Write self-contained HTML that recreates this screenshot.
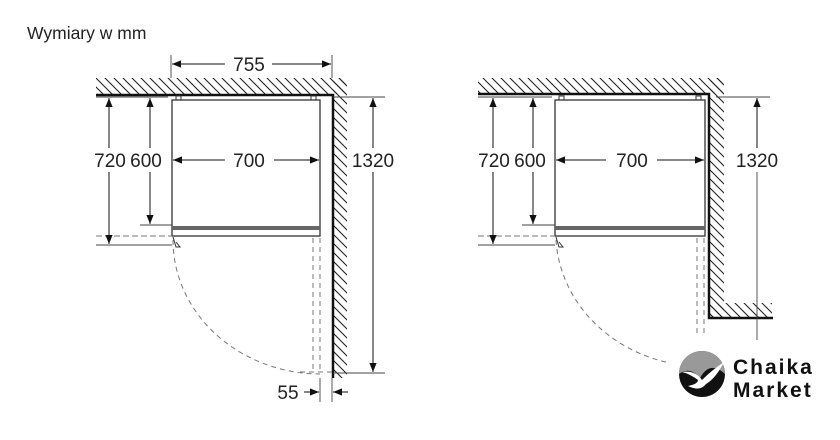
<!DOCTYPE html>
<html><head><meta charset="utf-8"><style>
html,body{margin:0;padding:0;background:#fff;}
svg{display:block;font-family:"Liberation Sans",sans-serif;}
</style></head><body>
<svg width="840" height="440" viewBox="0 0 840 440" xmlns="http://www.w3.org/2000/svg">
<defs>
<pattern id="h" width="9" height="9" patternUnits="userSpaceOnUse">
<path d="M-2,-2 L11,11 M-2,7 L2,11 M7,-2 L11,2" stroke="#222" stroke-width="1.1"/>
</pattern>
<marker id="a" viewBox="0 0 10 10" refX="10" refY="5" markerWidth="9" markerHeight="9" markerUnits="userSpaceOnUse" orient="auto-start-reverse">
<path d="M0,1 L10,5 L0,9 z" fill="#111"/>
</marker>
</defs>
<text x="27" y="39" font-size="17.5" fill="#222">Wymiary w mm</text>

<!-- LEFT -->
<rect x="96" y="78" width="250" height="16" fill="url(#h)"/>
<rect x="333" y="78" width="14" height="300" fill="url(#h)"/>
<path d="M96,95 H333 V378" fill="none" stroke="#111" stroke-width="2.5"/>
<rect x="172" y="100" width="148" height="136" fill="none" stroke="#333" stroke-width="1.3"/>
<rect x="172" y="226" width="148" height="4" fill="#666"/>
<rect x="176" y="96" width="5" height="4" fill="none" stroke="#333"/>
<rect x="311" y="96" width="5" height="4" fill="none" stroke="#333"/>
<path d="M173,237 l3,10 h4 l-4,-5" fill="none" stroke="#333"/>
<g stroke="#777" fill="none" stroke-dasharray="5,4">
<path d="M173,240 A148,134 0 0 0 320,374"/>
<path d="M313,238 V372 M320,238 V372 M300,372 H333"/>
<path d="M96,236 H172" stroke-dasharray="6,3"/>
</g>
<g stroke="#444" stroke-width="0.9">
<path d="M171,55 V78 M332,55 V78"/>
<path d="M96,97 H168 M140,225 H172 M96,245 H172"/>
<path d="M333,97 H385 M333,373 H385"/>
<path d="M320,378 V402 M332,378 V402"/>
</g>
<g stroke="#111" stroke-width="1">
<line x1="172" y1="64" x2="225" y2="64" marker-start="url(#a)"/>
<line x1="272" y1="64" x2="331" y2="64" marker-end="url(#a)"/>
<line x1="173" y1="160" x2="225" y2="160" marker-start="url(#a)"/>
<line x1="274" y1="160" x2="319" y2="160" marker-end="url(#a)"/>
<line x1="109" y1="98" x2="109" y2="148" marker-start="url(#a)"/>
<line x1="109" y1="172" x2="109" y2="244" marker-end="url(#a)"/>
<line x1="150" y1="98" x2="150" y2="148" marker-start="url(#a)"/>
<line x1="150" y1="172" x2="150" y2="224" marker-end="url(#a)"/>
<line x1="373" y1="98" x2="373" y2="148" marker-start="url(#a)"/>
<line x1="373" y1="172" x2="373" y2="372" marker-end="url(#a)"/>
<line x1="304" y1="392" x2="319" y2="392" marker-end="url(#a)"/>
<line x1="348" y1="392" x2="333" y2="392" marker-end="url(#a)"/>
</g>
<g font-size="19" fill="#222" text-anchor="middle">
<text x="249" y="71">755</text>
<text x="249" y="167">700</text>
<text x="110" y="167">720</text>
<text x="146" y="167">600</text>
<text x="373" y="167">1320</text>
<text x="288" y="399">55</text>
</g>

<!-- RIGHT -->
<rect x="478" y="78" width="245" height="16" fill="url(#h)"/>
<rect x="710" y="78" width="14" height="240" fill="url(#h)"/>
<rect x="710" y="303" width="62" height="15" fill="url(#h)"/>
<path d="M478,94 H709 V318 H773" fill="none" stroke="#111" stroke-width="2.5"/>
<rect x="555" y="100" width="150" height="136" fill="none" stroke="#333" stroke-width="1.3"/>
<rect x="555" y="226" width="150" height="4" fill="#666"/>
<rect x="559" y="96" width="5" height="4" fill="none" stroke="#333"/>
<rect x="696" y="96" width="5" height="4" fill="none" stroke="#333"/>
<path d="M556,237 l3,10 h4 l-4,-5" fill="none" stroke="#333"/>
<g stroke="#777" fill="none" stroke-dasharray="5,4">
<path d="M556,240 A148,134 0 0 0 690,366"/>
<path d="M697,238 V336 M704,238 V336"/>
<path d="M478,236 H555" stroke-dasharray="6,3"/>
</g>
<g stroke="#444" stroke-width="0.9">
<path d="M478,97 H552 M522,225 H555 M478,245 H555"/>
<path d="M716,97 H770"/>
<path d="M757,172 V345"/>
</g>
<g stroke="#111" stroke-width="1">
<line x1="556" y1="160" x2="606" y2="160" marker-start="url(#a)"/>
<line x1="657" y1="160" x2="704" y2="160" marker-end="url(#a)"/>
<line x1="493" y1="98" x2="493" y2="148" marker-start="url(#a)"/>
<line x1="493" y1="172" x2="493" y2="244" marker-end="url(#a)"/>
<line x1="533" y1="98" x2="533" y2="148" marker-start="url(#a)"/>
<line x1="533" y1="172" x2="533" y2="224" marker-end="url(#a)"/>
<line x1="757" y1="98" x2="757" y2="148" marker-start="url(#a)"/>
</g>
<g font-size="19" fill="#222" text-anchor="middle">
<text x="632" y="167">700</text>
<text x="494" y="167">720</text>
<text x="530" y="167">600</text>
<text x="757" y="167">1320</text>
</g>

<!-- logo -->
<rect x="668" y="340" width="160" height="90" fill="#fff"/>
<circle cx="702" cy="374" r="23" fill="#111"/>
<path d="M679,374 A23,23 0 0 1 725,374 Q710,360 700,378 Q690,366 679,374 z" fill="#999"/>
<path d="M682,372 Q695,370 702,380 Q712,370 724,362 Q716,378 706,384 Q700,392 688,386 Q698,384 698,380 Q690,374 682,372 z" fill="#fff"/>
<text x="733" y="374" font-size="21" fill="#111" font-weight="bold" letter-spacing="2">Chaika</text>
<text x="733" y="397" font-size="21" fill="#111" font-weight="bold" letter-spacing="2">Market</text>
</svg>
</body></html>
